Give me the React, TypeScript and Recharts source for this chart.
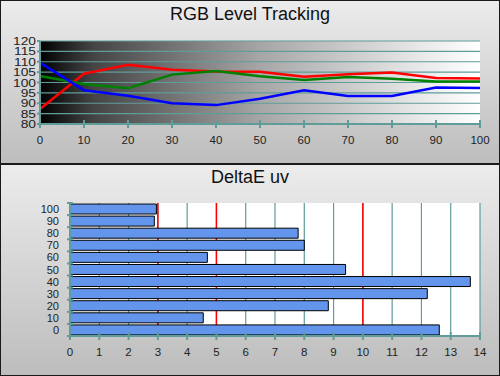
import React from 'react';
import {
  LineChart, Line, BarChart, Bar, XAxis, YAxis, CartesianGrid,
} from 'recharts';

// ---------- Data ----------
const levels = [0, 10, 20, 30, 40, 50, 60, 70, 80, 90, 100];
const redValues = [87.2, 104.2, 108.6, 106.2, 105.3, 105.2, 102.8, 104.0, 104.8, 102.2, 101.9];
const greenValues = [103.1, 99.3, 97.2, 103.8, 105.5, 103.0, 101.2, 102.7, 101.8, 100.5, 100.5];
const blueValues = [109.6, 96.3, 93.6, 90.0, 89.1, 92.2, 96.2, 93.5, 93.5, 97.6, 97.4];
const rgbYTicks = [80, 85, 90, 95, 100, 105, 110, 115, 120];
const rgbXTicks = [0, 10, 20, 30, 40, 50, 60, 70, 80, 90, 100];

const deLevels = [100, 90, 80, 70, 60, 50, 40, 30, 20, 10, 0];
const deValues = [2.95, 2.88, 7.79, 8.0, 4.69, 9.41, 13.67, 12.2, 8.82, 4.55, 12.61];
const deXTicks = [0, 1, 2, 3, 4, 5, 6, 7, 8, 9, 10, 11, 12, 13, 14];
const deYTicks = [-5, 0, 5, 10, 15, 20, 25, 30, 35, 40, 45, 50, 55, 60, 65, 70, 75, 80, 85, 90, 95, 100, 105];
const deThresholds = [3, 5, 10];
const deDomain = [0, 14];

const rgbData = levels.map((lv, i) => ({
  level: lv,
  red: redValues[i],
  green: greenValues[i],
  blue: blueValues[i],
}));
const deData = deLevels.map((lv, i) => ({ level: lv, de: deValues[i] }));

// ---------- Styles ----------
const TEAL = '#5f9c9a';
const FONT = '"Liberation Sans", Arial, sans-serif';

const CrossXTick = (props: any) => {
  const { x, y, payload } = props;
  return (
    <g>
      <line x1={x} x2={x} y1={y - 4} y2={y + 4} stroke={TEAL} strokeWidth={2} />
      <text x={x} y={y + 20} textAnchor="middle" fontSize={11.5} fill="#222">
        {payload.value}
      </text>
    </g>
  );
};

const RgbYTick = (props: any) => {
  const { x, y, payload } = props;
  return (
    <g transform={`translate(${x},${y + 4}) scale(1.3,1.05)`}>
      <text x={0} y={0} textAnchor="end" fontSize={10.6} fill="#222">
        {payload.value}
      </text>
    </g>
  );
};

const DeYTick = (props: any) => {
  const { x, y, payload } = props;
  const v = payload.value;
  if (v % 10 !== 0) {
    return <line x1={x - 3} x2={x + 3} y1={y} y2={y} stroke={TEAL} strokeWidth={2} />;
  }
  return (
    <text x={x - 11} y={y + 4} textAnchor="end" fontSize={11} fill="#222">
      {v}
    </text>
  );
};

const thresholdCoords = (args: any) => {
  const { xAxis, offset } = args;
  if (xAxis && typeof xAxis.scale === 'function') {
    return deThresholds.map((t) => xAxis.scale(t));
  }
  return deThresholds.map(
    (t) => offset.left + ((t - deDomain[0]) / (deDomain[1] - deDomain[0])) * offset.width,
  );
};

const panelStyle = (top: number, height: number): React.CSSProperties => ({
  position: 'absolute',
  left: 0,
  top,
  width: 500,
  height,
  boxSizing: 'border-box',
  border: '1px solid #1a1a1a',
  background: 'linear-gradient(to bottom, #ececec, #bdbdbd)',
});

const titleStyle = (top: number): React.CSSProperties => ({
  position: 'absolute',
  left: 0,
  top,
  width: 500,
  textAlign: 'center',
  fontSize: 18,
  lineHeight: '18px',
  color: '#111',
});

export default function App() {
  return (
    <div
      style={{
        position: 'absolute',
        left: 0,
        top: 0,
        width: 500,
        height: 376,
        overflow: 'hidden',
        fontFamily: FONT,
        background: '#c8c8c8',
      }}
    >
      <div style={panelStyle(0, 164)} />
      <div style={panelStyle(164, 212)} />

      <div style={titleStyle(5)}>RGB Level Tracking</div>
      <div style={titleStyle(168)}>DeltaE uv</div>

      <div style={{ position: 'absolute', left: 0, top: 0 }}>
        <LineChart
          width={500}
          height={164}
          data={rgbData}
          margin={{ top: 41, right: 20, bottom: 0, left: 0 }}
        >
          <defs>
            <linearGradient id="rgbBg" x1="0" y1="0" x2="1" y2="0">
              <stop offset="0%" stopColor="#000000" />
              <stop offset="12%" stopColor="#444444" />
              <stop offset="50%" stopColor="#a6a6a6" />
              <stop offset="85%" stopColor="#e6e6e6" />
              <stop offset="100%" stopColor="#ffffff" />
            </linearGradient>
          </defs>
          <CartesianGrid vertical={false} stroke={TEAL} strokeWidth={1.2} fill="url(#rgbBg)" fillOpacity={1} />
          <XAxis
            dataKey="level"
            type="number"
            domain={[0, 100]}
            ticks={rgbXTicks}
            interval={0}
            height={40}
            axisLine={{ stroke: TEAL, strokeWidth: 2 }}
            tickLine={false}
            tickSize={0}
            tickMargin={0}
            tick={<CrossXTick />}
          />
          <YAxis
            type="number"
            domain={[80, 120]}
            ticks={rgbYTicks}
            interval={0}
            width={40}
            axisLine={{ stroke: TEAL, strokeWidth: 2 }}
            tickLine={{ stroke: TEAL, strokeWidth: 2 }}
            tickSize={3}
            tickMargin={1}
            tick={<RgbYTick />}
          />
          <Line type="linear" dataKey="red" stroke="#ff0000" strokeWidth={2.5} dot={false} isAnimationActive={false} />
          <Line type="linear" dataKey="green" stroke="#008000" strokeWidth={2.5} dot={false} isAnimationActive={false} />
          <Line type="linear" dataKey="blue" stroke="#0000ff" strokeWidth={2.5} dot={false} isAnimationActive={false} />
        </LineChart>
      </div>

      <div style={{ position: 'absolute', left: 0, top: 164 }}>
        <BarChart
          width={500}
          height={212}
          data={deData}
          layout="vertical"
          margin={{ top: 39, right: 20, bottom: 0, left: 0 }}
        >
          <CartesianGrid horizontal={false} stroke={TEAL} strokeWidth={1.2} fill="#ffffff" fillOpacity={1} />
          <CartesianGrid
            horizontal={false}
            stroke="#ff0000"
            strokeWidth={1.5}
            fill="none"
            verticalCoordinatesGenerator={thresholdCoords}
          />
          <XAxis
            type="number"
            domain={deDomain}
            ticks={deXTicks}
            interval={0}
            height={40}
            axisLine={{ stroke: TEAL, strokeWidth: 2 }}
            tickLine={false}
            tickSize={0}
            tickMargin={0}
            tick={<CrossXTick />}
          />
          <YAxis
            dataKey="level"
            type="number"
            domain={[-5, 105]}
            ticks={deYTicks}
            interval={0}
            reversed
            width={70}
            axisLine={{ stroke: TEAL, strokeWidth: 2 }}
            tickLine={false}
            tickSize={0}
            tickMargin={0}
            tick={<DeYTick />}
          />
          <Bar
            dataKey="de"
            barSize={10}
            fill="#6495ed"
            stroke="#000000"
            strokeWidth={1}
            isAnimationActive={false}
          />
        </BarChart>
      </div>
    </div>
  );
}
